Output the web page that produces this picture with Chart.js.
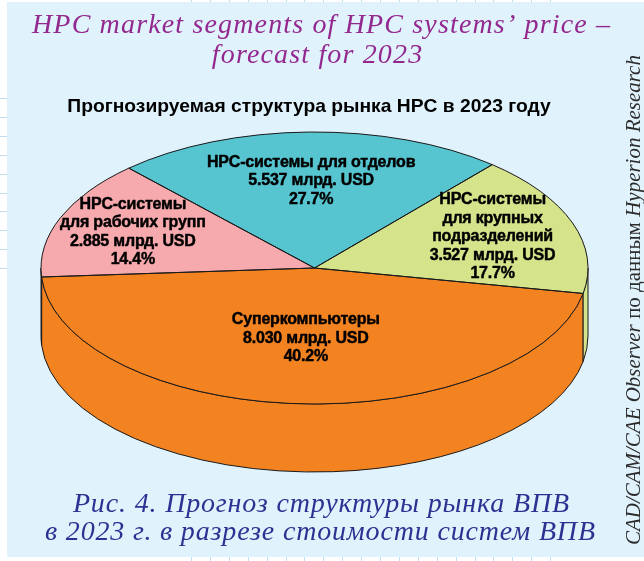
<!DOCTYPE html>
<html>
<head>
<meta charset="utf-8">
<script src="https://cdn.jsdelivr.net/npm/chart.js@4.4.0/dist/chart.umd.min.js"></script>
<style>
html,body{margin:0;padding:0;background:#ffffff;}
#wrap{position:relative;width:644px;height:561px;overflow:hidden;}
canvas{position:absolute;left:0;top:0;}
</style>
</head>
<body>
<div id="wrap"><canvas id="c" width="644" height="561"></canvas></div>
<script>
// ---------------- data ----------------
const categories = ["Суперкомпьютеры", "HPC-системы для рабочих групп", "HPC-системы для отделов", "HPC-системы для крупных подразделений"];
const labelLines = [["Суперкомпьютеры"], ["HPC-системы", "для рабочих групп"], ["HPC-системы для отделов"], ["HPC-системы", "для крупных", "подразделений"]];
const valuesBn = [8.030, 2.885, 5.537, 3.527];
const sharesPct = [40.2, 14.4, 27.7, 17.7];
const valueUnit = "млрд. USD";
const titleLines = ["HPC market segments of HPC systems’ price –", "forecast for 2023"];
const chartTitle = "Прогнозируемая структура рынка HPC в 2023 году";
const captionLines = ["Рис. 4. Прогноз структуры рынка ВПВ", "в 2023 г. в разрезе стоимости систем ВПВ"];
const sourceParts = [["CAD/CAM/CAE Observer", true], [" по данным ", false], ["Hyperion Research", true]];

// ---------------- styles / geometry ----------------
const sliceColors = ["#f38221", "#f7aaad", "#56c5d0", "#d5e38b"];
const CX = 314.5, CY = 268, RX = 273.5, RY = 136, DEPTH = 68;
const labelRadius = [0.52, 0.715, 0.64, 0.69];
const WARP_B = 0.19, WARP_C = 0.11; // perspective-like angle warp of the tilted disc
function warp(t){ return t - WARP_B*Math.cos(t) + WARP_C; }

const SERIF = '"Liberation Serif", "DejaVu Serif", serif';
const SANS = '"Liberation Sans", Arial, sans-serif';

function fitFont(ctx, text, style, family, target){
  ctx.font = style + ' 20px ' + family;
  const w = ctx.measureText(text).width;
  return 20 * target / w;
}
function fitSpacing(ctx, text, target){
  ctx.letterSpacing = '0px';
  const w = ctx.measureText(text).width;
  return Math.max(0, (target - w) / (text.length - 1));
}

const background = {
  id: 'background',
  beforeDraw(chart){
    const ctx = chart.ctx;
    ctx.save();
    ctx.fillStyle = '#ffffff';
    ctx.fillRect(0,0,644,561);
    ctx.fillStyle = '#e0f2fc';
    ctx.fillRect(7,2,637,555);
    ctx.strokeStyle = '#bfdff0';
    ctx.lineWidth = 1;
    for (let i=0;i<20;i++){
      const x = Math.round(191 + i*18.9) + 0.5;
      ctx.beginPath(); ctx.moveTo(x,0); ctx.lineTo(x,2); ctx.stroke();
      ctx.beginPath(); ctx.moveTo(x,557); ctx.lineTo(x,561); ctx.stroke();
    }
    for (let i=0;i<10;i++){
      const y = Math.round(98 + i*18.9) + 0.5;
      ctx.beginPath(); ctx.moveTo(0,y); ctx.lineTo(7,y); ctx.stroke();
    }
    ctx.restore();
  },
  afterDraw(chart){
    const ctx = chart.ctx;
    ctx.save();
    ctx.textBaseline = 'alphabetic';
    ctx.textAlign = 'center';
    // magenta title
    ctx.font = 'italic 28px ' + SERIF;
    let ls = fitSpacing(ctx, titleLines[0], 578);
    ctx.letterSpacing = ls + 'px';
    ctx.fillStyle = '#93288f';
    ctx.fillText(titleLines[0], 321 + ls/2, 33);
    ctx.fillText(titleLines[1], 317 + ls/2, 63);
    ctx.letterSpacing = '0px';
    // chart title
    const fs = fitFont(ctx, chartTitle, 'bold', SANS, 484);
    ctx.font = 'bold ' + fs + 'px ' + SANS;
    ctx.fillStyle = '#000000';
    ctx.fillText(chartTitle, 309, 112);
    // caption
    ctx.font = 'italic 28px ' + SERIF;
    ls = fitSpacing(ctx, captionLines[1], 550);
    ctx.letterSpacing = ls + 'px';
    ctx.fillStyle = '#2e3192';
    ctx.fillText(captionLines[0], 321 + ls/2, 512);
    ctx.fillText(captionLines[1], 320 + ls/2, 540);
    ctx.letterSpacing = '0px';
    // vertical source text
    const vs = 18;
    let total = 0;
    const widths = sourceParts.map(p => { ctx.font = (p[1]?'italic ':'') + vs + 'px ' + SERIF; const w = ctx.measureText(p[0]).width; total += w; return w; });
    const k = 490 / total;
    ctx.translate(640, 545);
    ctx.rotate(-Math.PI/2);
    ctx.textAlign = 'left';
    ctx.fillStyle = '#2b2b2b';
    let x = 0;
    sourceParts.forEach((p,i) => {
      ctx.font = (p[1]?'italic ':'') + (vs*k) + 'px ' + SERIF;
      ctx.fillText(p[0], x, 0);
      x += widths[i]*k;
    });
    ctx.restore();
  }
};

const pie3d = {
  id: 'pie3d',
  beforeDatasetsDraw(chart){
    const ctx = chart.ctx;
    const els = chart.getDatasetMeta(0).data;
    els.forEach(el => {
      el._orig = [el.startAngle, el.endAngle];
      el.startAngle = warp(el._orig[0]);
      el.endAngle = warp(el._orig[1]);
    });
    // side walls
    ctx.save();
    ctx.lineWidth = 1;
    ctx.strokeStyle = '#1a1a1a';
    els.forEach((el,i) => {
      const a = el.startAngle, b = el.endAngle;
      [[0,Math.PI],[2*Math.PI,3*Math.PI]].forEach(w => {
        const p = Math.max(a,w[0]), q = Math.min(b,w[1]);
        if (q > p + 1e-4){
          ctx.beginPath();
          ctx.ellipse(CX,CY,RX,RY,0,p,q,false);
          ctx.lineTo(CX+RX*Math.cos(q), CY+DEPTH+RY*Math.sin(q));
          ctx.ellipse(CX,CY+DEPTH,RX,RY,0,q,p,true);
          ctx.closePath();
          ctx.fillStyle = el.options.backgroundColor;
          ctx.fill();
          ctx.stroke();
        }
      });
    });
    ctx.restore();
    // tilt transform for the top face drawn by Chart.js
    const el0 = els[0];
    const R = el0.outerRadius;
    ctx.save();
    ctx.translate(CX, CY);
    ctx.scale(RX/R, RY/R);
    ctx.translate(-el0.x, -el0.y);
  },
  afterDatasetsDraw(chart){
    const ctx = chart.ctx;
    ctx.restore();
    const els = chart.getDatasetMeta(0).data;
    ctx.save();
    ctx.lineWidth = 1;
    ctx.strokeStyle = '#1a1a1a';
    els.forEach(el => {
      const a = el.startAngle, b = el.endAngle;
      ctx.beginPath();
      ctx.moveTo(CX,CY);
      ctx.lineTo(CX+RX*Math.cos(a), CY+RY*Math.sin(a));
      ctx.ellipse(CX,CY,RX,RY,0,a,b,false);
      ctx.closePath();
      ctx.stroke();
    });
    // labels
    ctx.fillStyle = '#000000';
    ctx.strokeStyle = '#000000';
    ctx.lineWidth = 0.45;
    ctx.lineJoin = 'round';
    ctx.textAlign = 'center';
    ctx.textBaseline = 'middle';
    ctx.font = 'bold 16px ' + SANS;
    ctx.letterSpacing = '-0.2px';
    const lh = 18.5;
    els.forEach((el,i) => {
      const mid = (el.startAngle + el.endAngle)/2;
      const x = CX + labelRadius[i]*RX*Math.cos(mid);
      const y = CY + labelRadius[i]*RY*Math.sin(mid);
      const lines = labelLines[i].concat([valuesBn[i].toFixed(3) + ' ' + valueUnit, sharesPct[i].toFixed(1) + '%']);
      const y0 = y - (lines.length-1)*lh/2;
      lines.forEach((t,k) => { ctx.fillText(t, x, y0 + k*lh); ctx.strokeText(t, x, y0 + k*lh); });
    });
    ctx.letterSpacing = '0px';
    ctx.restore();
    els.forEach(el => { if (el._orig){ el.startAngle = el._orig[0]; el.endAngle = el._orig[1]; } });
  }
};

new Chart(document.getElementById('c'), {
  type: 'pie',
  data: {
    labels: categories,
    datasets: [{ data: valuesBn, backgroundColor: sliceColors, borderWidth: 0, clip: false }]
  },
  options: {
    responsive: false,
    animation: false,
    events: [],
    rotation: 105,
    layout: { padding: 0 },
    plugins: { legend: { display: false }, tooltip: { enabled: false }, title: { display: false } }
  },
  plugins: [background, pie3d]
});
</script>
</body>
</html>
